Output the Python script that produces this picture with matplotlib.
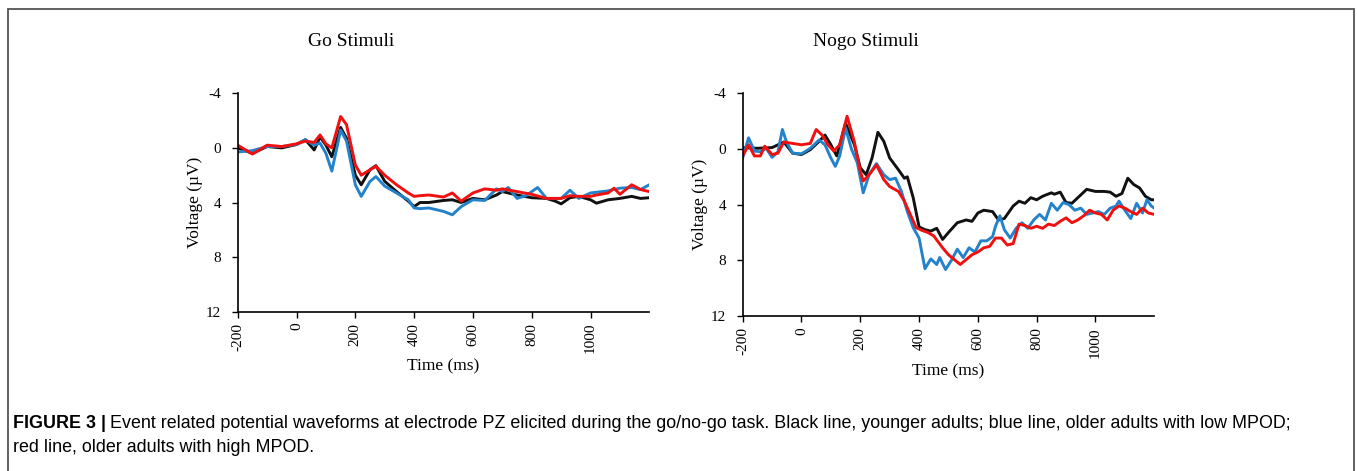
import matplotlib
matplotlib.use("Agg")
import matplotlib.pyplot as plt
from matplotlib.patches import Rectangle

# ---- Go stimuli (left panel) ----
go_black_t = [-200, -150, -100, -50, 0, 30, 60, 80, 100, 120, 150, 170, 200, 220, 250, 270, 300, 340, 380, 400,
              420, 450, 500, 530, 560, 600, 640, 680, 700, 750, 800, 850, 880, 900, 930, 960, 1000, 1020, 1060,
              1100, 1140, 1170, 1200]
go_black_v = [0, 0.4, -0.1, 0, -0.25, -0.6, 0.15, -0.8, -0.2, 0.65, -1.5, -0.7, 2.0, 2.7, 1.6, 1.3, 2.45, 3.2, 3.9,
              4.3, 4.0, 4.0, 3.85, 3.8, 4.0, 3.7, 3.8, 3.45, 3.2, 3.45, 3.65, 3.7, 3.9, 4.1, 3.65, 3.55, 3.8, 4.05,
              3.8, 3.7, 3.55, 3.7, 3.65]

go_blue_t = [-200, -150, -100, -50, 0, 30, 60, 80, 100, 120, 150, 170, 200, 220, 250, 270, 300, 340, 380, 400,
             420, 450, 500, 530, 560, 600, 640, 680, 700, 720, 750, 780, 800, 820, 850, 880, 900, 930, 960, 1000,
             1020, 1060, 1080, 1100, 1140, 1170, 1200]
go_blue_v = [0.3, 0.2, -0.1, -0.1, -0.25, -0.6, -0.2, -0.35, 0.4, 1.7, -1.3, -0.5, 2.7, 3.55, 2.45, 2.1, 2.8, 3.3,
             3.8, 4.4, 4.45, 4.4, 4.65, 4.9, 4.3, 3.8, 3.85, 3.0, 3.2, 2.9, 3.7, 3.5, 3.2, 2.9, 3.7, 3.7, 3.7, 3.1,
             3.7, 3.3, 3.25, 3.15, 3.05, 2.95, 2.9, 3.05, 2.7]

go_red_t = [-200, -150, -100, -50, 0, 30, 60, 80, 100, 120, 150, 170, 200, 220, 250, 270, 300, 340, 380, 400,
            420, 450, 500, 530, 560, 600, 640, 680, 700, 750, 800, 850, 880, 900, 930, 960, 1000, 1020, 1060,
            1080, 1100, 1140, 1170, 1200]
go_red_v = [-0.2, 0.45, -0.2, -0.1, -0.3, -0.5, -0.4, -0.95, -0.3, 0.0, -2.3, -1.7, 1.25, 2.0, 1.6, 1.35, 2.0, 2.7,
            3.3, 3.55, 3.5, 3.45, 3.6, 3.3, 3.9, 3.3, 3.0, 3.1, 3.0, 3.2, 3.4, 3.7, 3.7, 3.7, 3.5, 3.55, 3.55,
            3.45, 3.3, 2.95, 3.4, 2.7, 3.05, 3.2]

# ---- Nogo stimuli (right panel) ----
nogo_black_t = [-200, -150, -100, -60, -30, 0, 30, 60, 80, 100, 120, 150, 180, 200, 220, 240, 260, 280, 300, 330,
                350, 360, 380, 400, 420, 440, 460, 480, 500, 530, 560, 580, 600, 620, 650, 670, 690, 720, 740, 760,
                780, 800, 820, 850, 860, 880, 900, 920, 950, 970, 1000, 1030, 1050, 1070, 1090, 1110, 1130, 1150,
                1170, 1190, 1200]
nogo_black_v = [-0.1, -0.05, -0.1, -0.5, 0.3, 0.4, 0.05, -0.55, -1.0, -0.3, 0.5, -1.85, -0.3, 1.35, 1.85, 0.65,
                -1.2, -0.55, 0.65, 1.5, 2.1, 2.0, 3.5, 5.6, 5.8, 5.9, 5.7, 6.5, 6.0, 5.3, 5.1, 5.2, 4.6, 4.4, 4.5,
                5.1, 5.0, 4.1, 3.75, 3.9, 3.5, 3.65, 3.4, 3.15, 3.25, 3.1, 3.85, 3.9, 3.3, 2.9, 3.05, 3.05, 3.1,
                3.4, 3.2, 2.1, 2.55, 2.8, 3.4, 3.65, 3.65]

nogo_blue_t = [-200, -180, -160, -140, -120, -100, -80, -65, -50, -30, 0, 30, 60, 80, 100, 115, 130, 150, 170, 190,
               210, 230, 255, 280, 300, 320, 340, 360, 380, 400, 420, 440, 460, 470, 490, 510, 530, 550, 570, 590,
               610, 630, 650, 660, 675, 690, 710, 730, 750, 770, 790, 810, 830, 850, 870, 890, 910, 930, 950, 970,
               990, 1010, 1030, 1050, 1070, 1080, 1100, 1120, 1140, 1160, 1175, 1190, 1200]
nogo_blue_v = [0.65, -0.8, 0.15, 0.2, -0.05, 0.6, 0.2, -1.4, -0.45, 0.3, 0.35, -0.05, -0.65, -0.3, 0.65, 1.25, 0.5,
               -1.5, 0.0, 1.0, 3.15, 1.85, 1.05, 1.85, 2.2, 2.1, 3.05, 4.5, 5.65, 6.4, 8.6, 7.9, 8.3, 7.8, 8.66,
               8.0, 7.2, 7.8, 7.1, 7.4, 6.6, 6.6, 6.3, 5.55, 4.8, 5.8, 6.4, 5.7, 5.3, 5.7, 5.1, 4.7, 5.1, 3.9, 4.4,
               3.85, 4.0, 4.4, 4.25, 4.7, 4.6, 4.5, 4.7, 4.25, 4.1, 3.75, 4.4, 5.0, 3.9, 4.6, 3.65, 4.1, 4.25]

nogo_red_t = [-200, -180, -160, -140, -125, -100, -80, -60, -30, 0, 30, 50, 70, 90, 110, 130, 155, 180, 200, 210,
              230, 255, 280, 300, 330, 350, 370, 390, 410, 430, 450, 480, 500, 520, 540, 560, 580, 600, 620, 640,
              660, 680, 700, 720, 740, 760, 780, 800, 820, 840, 860, 880, 900, 920, 940, 960, 980, 1000, 1020,
              1040, 1060, 1080, 1100, 1120, 1140, 1160, 1180, 1200]
nogo_red_v = [0.5, -0.3, 0.5, 0.5, -0.2, 0.4, 0.3, -0.5, -0.4, -0.3, -0.4, -1.4, -1.0, -0.3, 0.15, -0.3, -2.35,
              -0.5, 1.6, 2.3, 1.85, 1.15, 2.2, 2.7, 3.05, 3.75, 4.7, 5.65, 5.85, 6.0, 6.25, 7.1, 7.6, 7.95, 8.3,
              7.95, 7.6, 7.4, 7.1, 7.0, 6.4, 6.4, 6.9, 6.8, 5.4, 5.5, 5.7, 5.55, 5.7, 5.4, 5.5, 5.2, 4.95, 5.3,
              5.1, 4.8, 4.4, 4.6, 4.7, 5.1, 4.4, 4.1, 4.25, 4.5, 4.7, 4.25, 4.6, 4.7]

x_ticks = [-200, 0, 200, 400, 600, 800, 1000]
y_ticks = [-4, 0, 4, 8, 12]
caption_bold = "FIGURE 3 |"
caption_rest = ("Event related potential waveforms at electrode PZ elicited during the go/no-go task. "
                "Black line, younger adults; blue line, older adults with low MPOD;")
caption_line2 = "red line, older adults with high MPOD."

BLACK = "#111111"
BLUE = "#2382c9"
RED = "#f01010"
serif = "Liberation Serif"
sans = "Liberation Sans"

fig = plt.figure(figsize=(13.57, 4.71), dpi=100)

# title, axes rect, title x position (px), series
panels = [
    ("Go Stimuli", [0.1752, 0.3382, 0.3033, 0.4637], 351,
     [(go_black_t, go_black_v, BLACK), (go_blue_t, go_blue_v, BLUE), (go_red_t, go_red_v, RED)]),
    ("Nogo Stimuli", [0.5473, 0.3291, 0.3033, 0.4728], 866,
     [(nogo_black_t, nogo_black_v, BLACK), (nogo_blue_t, nogo_blue_v, BLUE), (nogo_red_t, nogo_red_v, RED)]),
]

for title, rect, title_x, series in panels:
    ax = fig.add_axes(rect)
    for t, v, c in series:
        ax.plot(t, v, color=c, lw=2.1, solid_joinstyle="round")
    ax.set_xlim(-200, 1200)
    ax.set_ylim(12, -4)
    ax.set_xticks(x_ticks)
    ax.set_yticks(y_ticks)
    ax.set_xticklabels([str(x) for x in x_ticks], rotation=90, fontfamily=serif, fontsize=11)
    ax.set_yticklabels([str(y) for y in y_ticks], fontfamily=serif, fontsize=11)
    ax.tick_params(axis="both", direction="out", length=4, width=1, color="black")
    ax.tick_params(axis="x", pad=4)
    ax.tick_params(axis="y", pad=8)
    for s in ["top", "right"]:
        ax.spines[s].set_visible(False)
    for s in ["left", "bottom"]:
        ax.spines[s].set_linewidth(1.2)
    ax.set_xlabel("Time (ms)", fontfamily=serif, fontsize=12.5, labelpad=4)
    ax.set_ylabel("Voltage (\u00b5V)", fontfamily=serif, fontsize=12.5, labelpad=2)
    fig.text(title_x / 1357, 1 - 42 / 471, title, fontfamily=serif, fontsize=14, ha="center", va="center")

# outer frame
fig.add_artist(Rectangle((8 / 1357, -0.02), 1346 / 1357, 1.02 - 8.5 / 471, transform=fig.transFigure,
                         fill=False, edgecolor="#555555", lw=1.3))

t1 = fig.text(13 / 1357, 1 - 423 / 471, caption_bold, fontfamily=sans, fontweight="bold",
              fontsize=12.9, va="center", ha="left")
ann = matplotlib.text.Annotation(caption_rest, xy=(1, 0.5), xycoords=t1, xytext=(3, 0),
                                 textcoords="offset points", va="center", ha="left",
                                 fontfamily=sans, fontsize=12.9)
fig.add_artist(ann)
fig.text(13 / 1357, 1 - 448 / 471, caption_line2, fontfamily=sans, fontsize=12.9,
         va="center", ha="left")

fig.savefig("out.png", dpi=100)
